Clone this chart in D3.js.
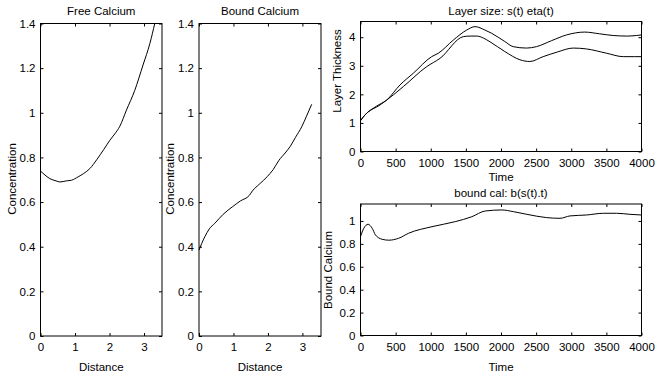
<!DOCTYPE html>
<html>
<head>
<meta charset="utf-8">
<script src="https://cdn.jsdelivr.net/npm/d3@7"></script>
<style>
  body { margin: 0; background: #fff; }
  svg { display: block; }
  text { font-family: "Liberation Sans", Arial, Helvetica, sans-serif; font-size: 11.5px; fill: #000; }
</style>
</head>
<body>
<svg id="chart" width="656" height="375"></svg>
<script>
// free calcium vs distance
const freeDist = [0, 0.1, 0.27, 0.45, 0.56, 0.75, 0.9, 1.09, 1.25, 1.43, 1.63, 1.83, 2.01, 2.15, 2.3, 2.49, 2.73, 2.97, 3.17, 3.31]
const freeConc = [0.739, 0.725, 0.705, 0.695, 0.69, 0.695, 0.698, 0.713, 0.728, 0.75, 0.79, 0.835, 0.877, 0.905, 0.94, 1.012, 1.1, 1.214, 1.311, 1.4]

// bound calcium vs distance
const boundDist = [0, 0.08, 0.17, 0.3, 0.46, 0.7, 0.98, 1.2, 1.46, 1.55, 1.75, 1.98, 2.15, 2.31, 2.5, 2.65, 2.8, 2.98, 3.12, 3.27]
const boundConc = [0.385, 0.415, 0.445, 0.48, 0.505, 0.545, 0.58, 0.605, 0.63, 0.65, 0.68, 0.714, 0.745, 0.785, 0.82, 0.85, 0.89, 0.937, 0.985, 1.038]

// layer size s(t) and eta(t)
const sTime = [0, 64, 230, 373, 562, 752, 1013, 1108, 1321, 1511, 1630, 1772, 1865, 2054, 2173, 2363, 2505, 2720, 2933, 3193, 3400, 3596, 3800, 3929, 4000]
const sVals = [1.08, 1.28, 1.59, 1.8, 2.33, 2.74, 3.32, 3.44, 3.9, 4.25, 4.37, 4.25, 4.14, 3.85, 3.67, 3.62, 3.67, 3.88, 4.08, 4.18, 4.12, 4.06, 4.04, 4.06, 4.08]
const etaTime = [0, 64, 278, 467, 609, 942, 1132, 1464, 1560, 1654, 1750, 1843, 2054, 2270, 2410, 2600, 2800, 3027, 3217, 3502, 3740, 3900, 4000]
const etaVals = [1.08, 1.28, 1.63, 1.98, 2.27, 2.97, 3.26, 4.02, 4.04, 4.04, 3.97, 3.84, 3.5, 3.21, 3.15, 3.32, 3.48, 3.62, 3.59, 3.44, 3.32, 3.32, 3.32]

// bound calcium at the layer edge b(s(t),t)
const bTime = [0, 47, 109, 166, 213, 308, 402, 544, 686, 1018, 1349, 1585, 1775, 2012, 2178, 2367, 2651, 2840, 2982, 3219, 3456, 3645, 3834, 4000]
const bVals = [0.863, 0.936, 0.971, 0.936, 0.878, 0.84, 0.832, 0.849, 0.893, 0.95, 0.994, 1.037, 1.087, 1.096, 1.081, 1.058, 1.029, 1.023, 1.044, 1.052, 1.067, 1.067, 1.058, 1.052]

// tick values
const distTicks = [0, 1, 2, 3]
const concTicks = [0, 0.2, 0.4, 0.6, 0.8, 1, 1.2, 1.4]
const timeTicks = [0, 500, 1000, 1500, 2000, 2500, 3000, 3500, 4000]
const layerTicks = [0, 1, 2, 3, 4]
const bcalTicks = [0, 0.2, 0.4, 0.6, 0.8, 1]

const svg = d3.select('#chart')
const fmt = d3.format('~g')

function panel (o) {
  const x = d3.scaleLinear().domain(o.xDomain).range([o.left, o.right])
  const y = d3.scaleLinear().domain(o.yDomain).range([o.bottom, o.top])
  const g = svg.append('g')

  g.append('rect')
    .attr('x', o.left).attr('y', o.top)
    .attr('width', o.right - o.left).attr('height', o.bottom - o.top)
    .attr('fill', 'none').attr('stroke', '#000').attr('stroke-width', 1)

  const bottom = g.append('g').attr('transform', `translate(0,${o.bottom})`)
    .call(d3.axisBottom(x).tickValues(o.xTicks).tickSizeInner(-3).tickSizeOuter(0).tickPadding(7).tickFormat(fmt))
  const top = g.append('g').attr('transform', `translate(0,${o.top})`)
    .call(d3.axisTop(x).tickValues(o.xTicks).tickSizeInner(-3).tickSizeOuter(0).tickFormat(''))
  const left = g.append('g').attr('transform', `translate(${o.left},0)`)
    .call(d3.axisLeft(y).tickValues(o.yTicks).tickSizeInner(-3).tickSizeOuter(0).tickPadding(5).tickFormat(fmt))
  const right = g.append('g').attr('transform', `translate(${o.right},0)`)
    .call(d3.axisRight(y).tickValues(o.yTicks).tickSizeInner(-3).tickSizeOuter(0).tickFormat(''))

  ;[bottom, top, left, right].forEach(a => {
    a.select('.domain').remove()
    a.attr('font-family', null).attr('font-size', null)
    a.selectAll('line').attr('stroke', '#000')
  })

  const line = d3.line().x(d => x(d[0])).y(d => y(d[1])).curve(d3.curveMonotoneX)
  o.series.forEach(s => {
    g.append('path')
      .datum(d3.zip(s[0], s[1]))
      .attr('d', line)
      .attr('fill', 'none').attr('stroke', '#000').attr('stroke-width', 1)
  })

  g.append('text')
    .attr('x', (o.left + o.right) / 2).attr('y', o.titleY)
    .attr('text-anchor', 'middle').text(o.title)
  g.append('text')
    .attr('x', (o.left + o.right) / 2).attr('y', o.xLabelY)
    .attr('text-anchor', 'middle').text(o.xLabel)
  g.append('text')
    .attr('transform', `translate(${o.yLabelX},${o.yLabelMid}) rotate(-90)`)
    .attr('text-anchor', 'middle').text(o.yLabel)
}

panel({
  left: 40.5, right: 162, top: 23.5, bottom: 336,
  xDomain: [0, 3.52], yDomain: [0, 1.4],
  xTicks: distTicks, yTicks: concTicks,
  series: [[freeDist, freeConc]],
  title: 'Free Calcium', titleY: 15,
  xLabel: 'Distance', xLabelY: 371,
  yLabel: 'Concentration', yLabelX: 16, yLabelMid: 179
})

panel({
  left: 199, right: 321, top: 23.5, bottom: 336,
  xDomain: [0, 3.54], yDomain: [0, 1.4],
  xTicks: distTicks, yTicks: concTicks,
  series: [[boundDist, boundConc]],
  title: 'Bound Calcium', titleY: 15,
  xLabel: 'Distance', xLabelY: 371,
  yLabel: 'Concentration', yLabelX: 174, yLabelMid: 179
})

panel({
  left: 360.5, right: 641.5, top: 21.5, bottom: 151.5,
  xDomain: [0, 4000], yDomain: [0, 4.55],
  xTicks: timeTicks, yTicks: layerTicks,
  series: [[sTime, sVals], [etaTime, etaVals]],
  title: 'Layer size: s(t) eta(t)', titleY: 15,
  xLabel: 'Time', xLabelY: 181,
  yLabel: 'Layer Thickness', yLabelX: 341, yLabelMid: 71
})

panel({
  left: 360.5, right: 641.5, top: 204, bottom: 335.5,
  xDomain: [0, 4000], yDomain: [0, 1.148],
  xTicks: timeTicks, yTicks: bcalTicks,
  series: [[bTime, bVals]],
  title: 'bound cal: b(s(t).t)', titleY: 197,
  xLabel: 'Time', xLabelY: 371,
  yLabel: 'Bound Calcium', yLabelX: 332, yLabelMid: 270
})
</script>
</body>
</html>
